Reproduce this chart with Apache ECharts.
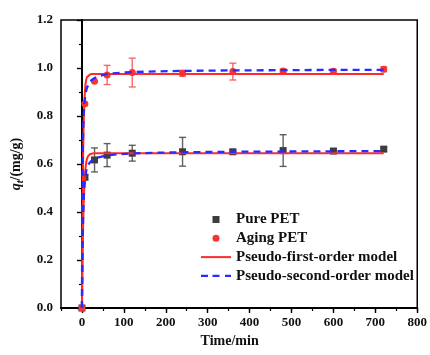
<!DOCTYPE html>
<html>
<head>
<meta charset="utf-8">
<script src="https://cdn.jsdelivr.net/npm/echarts@6/dist/echarts.min.js"></script>
<style>
  html, body { margin: 0; padding: 0; background: #fff; }
  #chart { width: 430px; height: 355px; }
</style>
</head>
<body>
<div id="chart"></div>
<script>
// measured points (time in min)
const sampleT = [0, 7, 30, 60, 120, 240, 360, 480, 600, 720]
const pureQ = [0, 0.545, 0.617, 0.637, 0.645, 0.651, 0.651, 0.656, 0.654, 0.662]
const pureErr = [0, 0.01, 0.05, 0.048, 0.033, 0.06, 0.008, 0.066, 0.01, 0.008]
const agingQ = [0, 0.851, 0.945, 0.971, 0.981, 0.978, 0.985, 0.988, 0.986, 0.995]
const agingErr = [0, 0, 0, 0.04, 0.06, 0.012, 0.035, 0.008, 0.008, 0.01]

// fitted curves
const fitT = [0, 1, 2, 3, 4, 5, 6, 8, 10, 12, 15, 20, 25, 30, 40, 60, 90, 120, 180, 240, 360, 480, 600, 720]
const agingPFO = [0, 0.30, 0.51, 0.66, 0.76, 0.82, 0.87, 0.925, 0.95, 0.962, 0.97, 0.974, 0.975, 0.975, 0.975, 0.975, 0.975, 0.975, 0.975, 0.975, 0.975, 0.975, 0.975, 0.975]
const agingPSO = [0, 0.50, 0.67, 0.75, 0.80, 0.83, 0.855, 0.885, 0.905, 0.918, 0.93, 0.945, 0.952, 0.958, 0.966, 0.975, 0.98, 0.983, 0.986, 0.988, 0.99, 0.991, 0.992, 0.992]
const purePFO = [0, 0.154, 0.27, 0.36, 0.43, 0.48, 0.52, 0.575, 0.605, 0.622, 0.634, 0.642, 0.644, 0.645, 0.645, 0.645, 0.645, 0.645, 0.645, 0.645, 0.645, 0.645, 0.645, 0.645]
const purePSO = [0, 0.20, 0.32, 0.39, 0.44, 0.48, 0.51, 0.545, 0.57, 0.585, 0.597, 0.609, 0.616, 0.621, 0.628, 0.636, 0.641, 0.644, 0.647, 0.649, 0.651, 0.652, 0.653, 0.654]

const xTicks = [0, 100, 200, 300, 400, 500, 600, 700, 800]

const FONT = '"Liberation Serif", "Times New Roman", serif'

const chart = echarts.init(document.getElementById('chart'))

const pairs = (xs, ys) => xs.map((x, i) => [x, ys[i]])
const errData = (qs, es) => sampleT.map((t, i) => [t, qs[i] - es[i], qs[i] + es[i]])

function errorBar(color) {
  return function (params, api) {
    const lo = api.coord([api.value(0), api.value(1)])
    const hi = api.coord([api.value(0), api.value(2)])
    if (Math.abs(lo[1] - hi[1]) < 1) return null
    const w = 3.5
    const style = { stroke: color, lineWidth: 1.4 }
    return {
      type: 'group',
      children: [
        { type: 'line', shape: { x1: lo[0], y1: lo[1], x2: hi[0], y2: hi[1] }, style },
        { type: 'line', shape: { x1: lo[0] - w, y1: lo[1], x2: lo[0] + w, y2: lo[1] }, style },
        { type: 'line', shape: { x1: hi[0] - w, y1: hi[1], x2: hi[0] + w, y2: hi[1] }, style }
      ]
    }
  }
}

function fitLine(name, data, color, dashed) {
  return {
    name,
    type: 'line',
    showSymbol: false,
    symbol: 'none',
    lineStyle: dashed ? { color, width: 2.3, type: [7, 5] } : { color, width: 2 },
    itemStyle: { color },
    data,
    z: dashed ? 5 : 4
  }
}

const option = {
  animation: false,
  backgroundColor: '#fff',
  textStyle: { fontFamily: FONT },
  grid: {
    left: 61, top: 20, right: 12, bottom: 47,
    show: true, borderColor: '#000', borderWidth: 1.5
  },
  legend: {
    data: [
      { name: 'Pure PET', icon: 'path://M0,0h10v10h-10z' },
      { name: 'Aging PET', icon: 'circle' },
      { name: 'Pseudo-first-order model', icon: 'path://M0,0h30v2h-30z' },
      { name: 'Pseudo-second-order model', icon: 'path://M0,0h7v2.3h-7z M11.5,0h7v2.3h-7z M24,0h6v2.3h-6z' }
    ],
    orient: 'vertical',
    left: 201,
    top: 212,
    padding: 0,
    itemGap: 3.8,
    itemWidth: 30,
    itemHeight: 7,
    symbolKeepAspect: true,
    textStyle: { fontFamily: FONT, fontSize: 15, fontWeight: 'bold', color: '#111', lineHeight: 14.5 }
  },
  xAxis: [
    {
      type: 'value',
      min: -50, max: 800, interval: 50,
      name: 'Time/min',
      nameLocation: 'middle',
      nameGap: 24,
      nameTextStyle: { fontFamily: FONT, fontSize: 14, fontWeight: 'bold', color: '#111', padding: [0, 19, 0, 0] },
      axisLine: { lineStyle: { color: '#000', width: 2 } },
      axisTick: { length: 3, lineStyle: { color: '#000', width: 1.2 } },
      axisLabel: { customValues: xTicks, margin: 8, fontFamily: FONT, fontSize: 13, fontWeight: 'bold', color: '#111' },
      splitLine: { show: false }
    },
    {
      type: 'value',
      gridIndex: 0,
      position: 'bottom',
      min: -50, max: 800,
      axisLine: { show: false },
      axisTick: { customValues: xTicks, length: 5, lineStyle: { color: '#000', width: 1.4 } },
      axisLabel: { show: false },
      splitLine: { show: false }
    }
  ],
  yAxis: {
    type: 'value',
    min: 0, max: 1.2, interval: 0.2,
    name: '{q|q}{t|t}{n|/(mg/g)}',
    nameLocation: 'middle',
    nameGap: 35,
    nameTextStyle: {
      rich: {
        q: { fontFamily: FONT, fontSize: 14, fontStyle: 'italic', fontWeight: 'bold', color: '#111' },
        t: { fontFamily: FONT, fontSize: 10, fontStyle: 'italic', fontWeight: 'bold', color: '#111', padding: [8, 0, 0, 0] },
        n: { fontFamily: FONT, fontSize: 14, fontWeight: 'bold', color: '#111' }
      }
    },
    axisLine: { show: true, lineStyle: { color: '#000', width: 2 } },
    axisTick: { length: 5, lineStyle: { color: '#000', width: 1.4 } },
    minorTick: { show: true, splitNumber: 2, length: 3, lineStyle: { color: '#000', width: 1.2 } },
    axisLabel: {
      margin: 8, fontFamily: FONT, fontSize: 13, fontWeight: 'bold', color: '#111',
      formatter: v => v.toFixed(1)
    },
    splitLine: { show: false }
  },
  series: [
    {
      type: 'custom',
      renderItem: errorBar('rgba(70,70,70,0.85)'),
      data: errData(pureQ, pureErr),
      encode: { x: 0, y: [1, 2] },
      z: 2
    },
    {
      type: 'custom',
      renderItem: errorBar('rgba(245,80,80,0.85)'),
      data: errData(agingQ, agingErr),
      encode: { x: 0, y: [1, 2] },
      z: 2
    },
    {
      name: 'Pure PET',
      type: 'scatter',
      symbol: 'rect',
      symbolSize: 7,
      itemStyle: { color: '#3d3d3d', opacity: 1 },
      data: pairs(sampleT, pureQ),
      z: 3
    },
    {
      name: 'Aging PET',
      type: 'scatter',
      symbol: 'circle',
      symbolSize: 7,
      itemStyle: { color: '#f53535', opacity: 1 },
      data: pairs(sampleT, agingQ),
      z: 3
    },
    fitLine('Pseudo-first-order model', pairs(fitT, purePFO), '#ff2b2b', false),
    fitLine('Pseudo-first-order model', pairs(fitT, agingPFO), '#ff2b2b', false),
    fitLine('Pseudo-second-order model', pairs(fitT, purePSO), '#2b2bff', true),
    fitLine('Pseudo-second-order model', pairs(fitT, agingPSO), '#2b2bff', true)
  ]
}

chart.setOption(option)

window.addEventListener('resize', () => chart.resize())
</script>
</body>
</html>
